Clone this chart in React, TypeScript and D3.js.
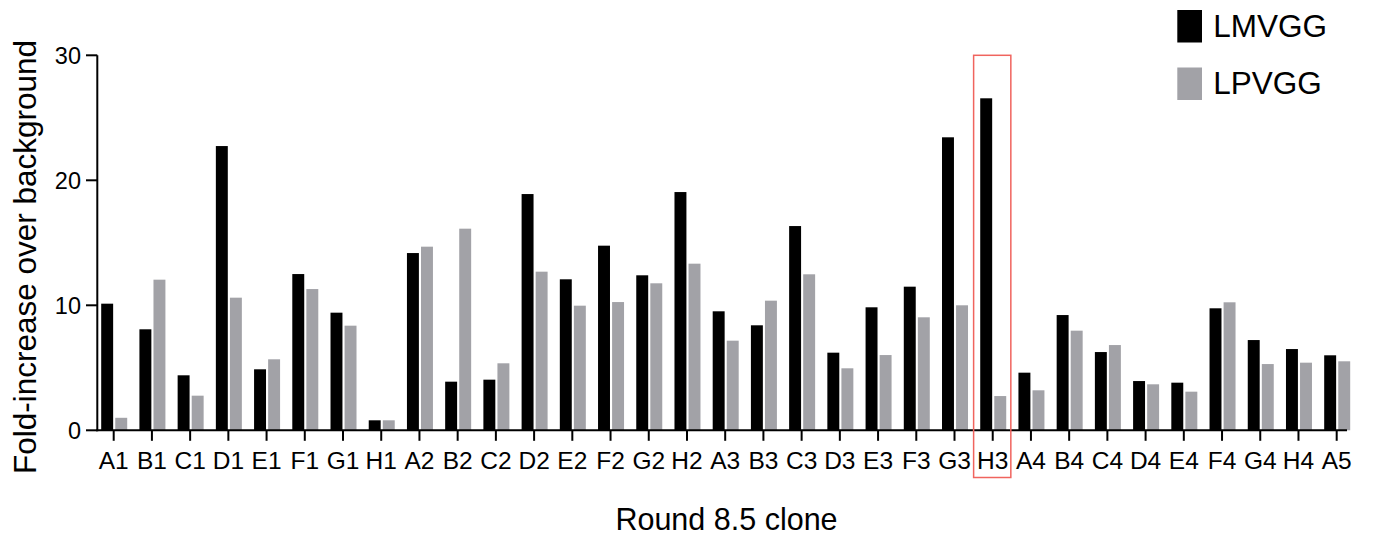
import React from "react";
import * as d3 from "d3";

const categories = ["A1","B1","C1","D1","E1","F1","G1","H1","A2","B2","C2","D2","E2","F2","G2","H2","A3","B3","C3","D3","E3","F3","G3","H3","A4","B4","C4","D4","E4","F4","G4","H4","A5"];
const seriesNames = ["LMVGG", "LPVGG"];
const lmvgg = [10.13,8.08,4.4,22.74,4.88,12.5,9.41,0.8,14.18,3.89,4.05,18.9,12.08,14.77,12.4,19.06,9.52,8.4,16.34,6.21,9.84,11.49,23.44,26.56,4.61,9.22,6.26,3.94,3.81,9.76,7.22,6.5,6.0];
const lpvgg = [1.0,12.05,2.77,10.61,5.68,11.3,8.37,0.8,14.69,16.13,5.36,12.69,9.97,10.26,11.76,13.33,7.17,10.37,12.48,4.96,6.02,9.04,10.0,2.74,3.2,7.97,6.82,3.68,3.09,10.24,5.3,5.41,5.52];
const yTicks = [0, 10, 20, 30];
const highlighted = "H3";
const colors = ["#000000", "#a2a2a7"];

const W = 1374, H = 535;

export default function App() {
  const x = d3.scaleBand<string>().domain(categories).range([94.59, 1355.8]).padding(0);
  const xs = d3.scaleBand<string>().domain(seriesNames).range([-12.5, 13.5]).paddingInner(0.15);
  const y = d3.scaleLinear().domain([0, 30]).range([430.3, 55.3]);
  const cx = (c: string) => (x(c) as number) + x.bandwidth() / 2;
  const values = [lmvgg, lpvgg];
  const font = "Liberation Sans, Arial, Helvetica, sans-serif";
  const axisLeft = 97.3;
  const axisRight = 1347;
  const y0 = y(0);

  return (
    <svg width={W} height={H} style={{ position: "absolute", left: 0, top: 0, background: "#fff" }} fontFamily={font}>
      {/* bars */}
      {seriesNames.map((s, si) => (
        <g key={s}>
          {categories.map((c, i) => {
            const v = values[si][i];
            const bx = cx(c) + (xs(s) as number);
            return (
              <rect key={c} x={bx} y={y(v)} width={xs.bandwidth()} height={y0 - y(v)} fill={colors[si]} />
            );
          })}
        </g>
      ))}
      {/* axes */}
      <line x1={axisLeft} x2={axisLeft} y1={y(30)} y2={y0 + 1} stroke="#000" strokeWidth={2} />
      <line x1={axisLeft - 1} x2={axisRight} y1={y0} y2={y0} stroke="#000" strokeWidth={2} />
      {yTicks.map((t) => (
        <g key={t}>
          <line x1={86} x2={axisLeft} y1={y(t)} y2={y(t)} stroke="#000" strokeWidth={2} />
          <text x={81} y={y(t)} dy="0.35em" textAnchor="end" fontSize={23.5} fill="#000">{t}</text>
        </g>
      ))}
      {categories.map((c) => (
        <g key={c}>
          <line x1={cx(c)} x2={cx(c)} y1={y0} y2={y0 + 10.5} stroke="#000" strokeWidth={2} />
          <text x={cx(c)} y={469.3} textAnchor="middle" fontSize={24.5} fill="#000">{c}</text>
        </g>
      ))}
      {/* highlight box */}
      <rect x={x(highlighted) as number} y={y(30)} width={x.bandwidth() - 1} height={477.5 - y(30)} fill="none" stroke="#f0645e" strokeWidth={1.5} />
      {/* axis titles */}
      <text x={726.5} y={530} textAnchor="middle" fontSize={30.5} fill="#000">Round 8.5 clone</text>
      <text transform={`translate(36,257) rotate(-90)`} textAnchor="middle" fontSize={31.5} fill="#000">Fold-increase over background</text>
      {/* legend */}
      {seriesNames.map((s, i) => (
        <g key={s} transform={`translate(0, ${i * 57.5})`}>
          <rect x={1177.3} y={10} width={24.7} height={32.5} fill={colors[i]} />
          <text x={1213.3} y={36.7} fontSize={31.5} fill="#000">{s}</text>
        </g>
      ))}
    </svg>
  );
}
